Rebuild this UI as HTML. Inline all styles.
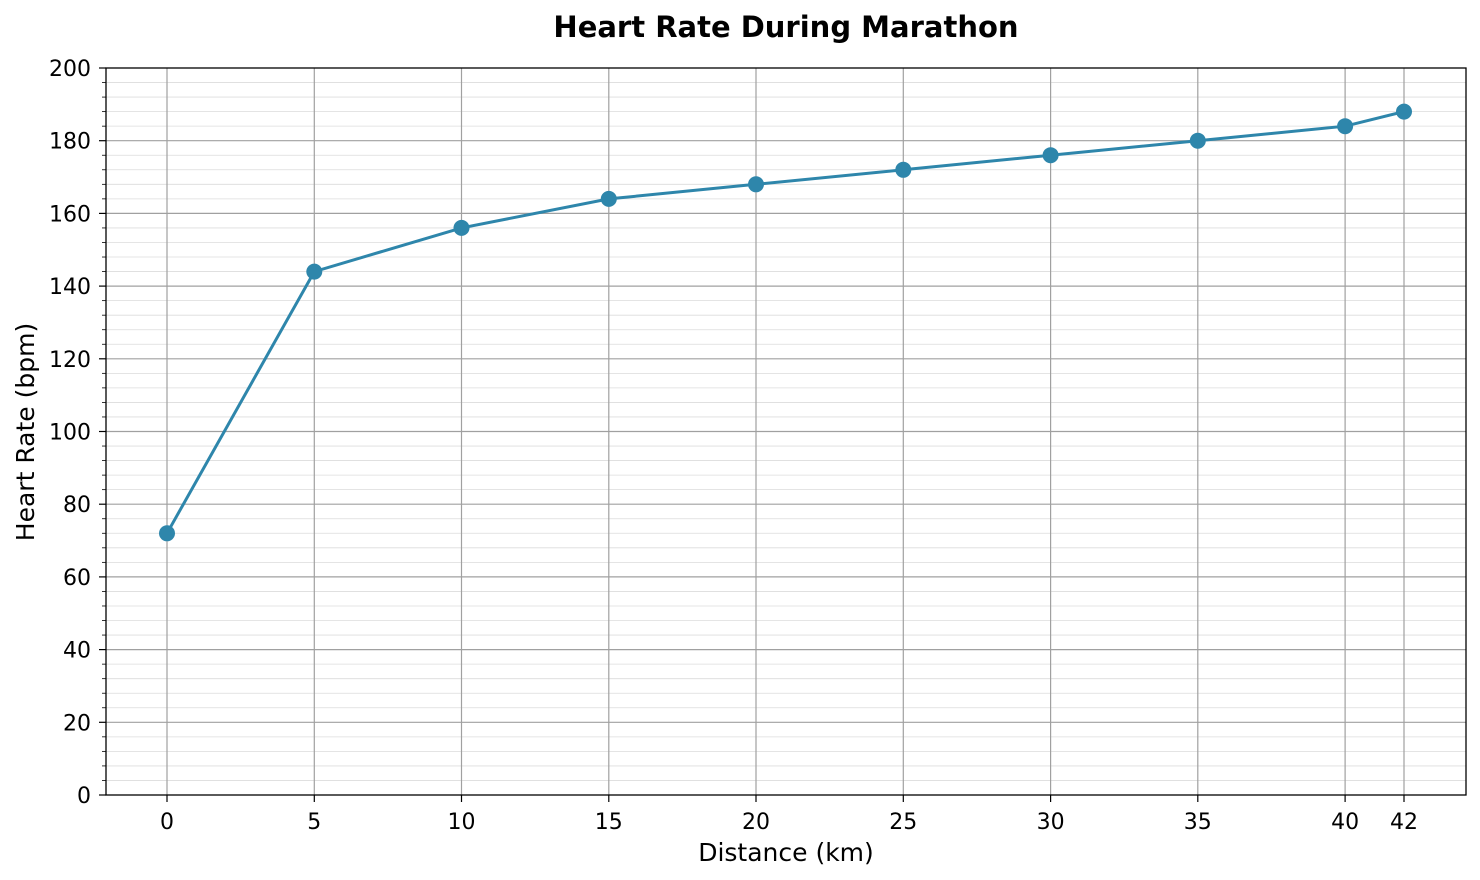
<!DOCTYPE html>
<html><head><meta charset="utf-8"><style>body{margin:0;background:#fff}svg{display:block;font-family:"DejaVu Sans","Liberation Sans",sans-serif}</style></head>
<body>
<svg width="1480" height="880" viewBox="0 0 1480 880" xmlns="http://www.w3.org/2000/svg">
<rect width="1480" height="880" fill="#fff"/>
<defs>
<g id="m">
<line x1="106" x2="1466" y1="-14.54" y2="-14.54" stroke="#dcdcdc" stroke-width="0.8"/>
<line x1="106" x2="1466" y1="-29.08" y2="-29.08" stroke="#dcdcdc" stroke-width="0.8"/>
<line x1="106" x2="1466" y1="-43.62" y2="-43.62" stroke="#dcdcdc" stroke-width="0.8"/>
<line x1="106" x2="1466" y1="-58.16" y2="-58.16" stroke="#dcdcdc" stroke-width="0.8"/>
<line x1="102" x2="106" y1="-14.54" y2="-14.54" stroke="#000" stroke-width="0.8"/>
<line x1="102" x2="106" y1="-29.08" y2="-29.08" stroke="#000" stroke-width="0.8"/>
<line x1="102" x2="106" y1="-43.62" y2="-43.62" stroke="#000" stroke-width="0.8"/>
<line x1="102" x2="106" y1="-58.16" y2="-58.16" stroke="#000" stroke-width="0.8"/>
</g>
</defs>
<use href="#m" y="795"/><use href="#m" y="722.3"/><use href="#m" y="649.6"/><use href="#m" y="576.9"/><use href="#m" y="504.2"/>
<use href="#m" y="431.5"/><use href="#m" y="358.8"/><use href="#m" y="286.1"/><use href="#m" y="213.4"/><use href="#m" y="140.7"/>
<g stroke="#a0a0a0" stroke-width="1.2">
<line x1="106" x2="1466" y1="722.3" y2="722.3"/><line x1="106" x2="1466" y1="649.6" y2="649.6"/>
<line x1="106" x2="1466" y1="576.9" y2="576.9"/><line x1="106" x2="1466" y1="504.2" y2="504.2"/>
<line x1="106" x2="1466" y1="431.5" y2="431.5"/><line x1="106" x2="1466" y1="358.8" y2="358.8"/>
<line x1="106" x2="1466" y1="286.1" y2="286.1"/><line x1="106" x2="1466" y1="213.4" y2="213.4"/>
<line x1="106" x2="1466" y1="140.7" y2="140.7"/>
<line x1="167" x2="167" y1="68" y2="795"/><line x1="314.3" x2="314.3" y1="68" y2="795"/>
<line x1="461.5" x2="461.5" y1="68" y2="795"/><line x1="608.8" x2="608.8" y1="68" y2="795"/>
<line x1="756" x2="756" y1="68" y2="795"/><line x1="903.3" x2="903.3" y1="68" y2="795"/>
<line x1="1050.6" x2="1050.6" y1="68" y2="795"/><line x1="1197.8" x2="1197.8" y1="68" y2="795"/>
<line x1="1345.1" x2="1345.1" y1="68" y2="795"/><line x1="1404" x2="1404" y1="68" y2="795"/>
</g>
<g stroke="#000" stroke-width="1.2">
<line x1="99" x2="106" y1="795" y2="795"/><line x1="99" x2="106" y1="722.3" y2="722.3"/><line x1="99" x2="106" y1="649.6" y2="649.6"/>
<line x1="99" x2="106" y1="576.9" y2="576.9"/><line x1="99" x2="106" y1="504.2" y2="504.2"/><line x1="99" x2="106" y1="431.5" y2="431.5"/>
<line x1="99" x2="106" y1="358.8" y2="358.8"/><line x1="99" x2="106" y1="286.1" y2="286.1"/><line x1="99" x2="106" y1="213.4" y2="213.4"/>
<line x1="99" x2="106" y1="140.7" y2="140.7"/><line x1="99" x2="106" y1="68" y2="68"/>
<line x1="167" x2="167" y1="795" y2="802"/><line x1="314.3" x2="314.3" y1="795" y2="802"/><line x1="461.5" x2="461.5" y1="795" y2="802"/>
<line x1="608.8" x2="608.8" y1="795" y2="802"/><line x1="756" x2="756" y1="795" y2="802"/><line x1="903.3" x2="903.3" y1="795" y2="802"/>
<line x1="1050.6" x2="1050.6" y1="795" y2="802"/><line x1="1197.8" x2="1197.8" y1="795" y2="802"/><line x1="1345.1" x2="1345.1" y1="795" y2="802"/>
<line x1="1404" x2="1404" y1="795" y2="802"/>
</g>
<rect x="106" y="68" width="1360" height="727" fill="none" stroke="#000" stroke-width="1.3"/>
<g font-size="22" text-anchor="end">
<text x="91" y="803">0</text><text x="91" y="730.3">20</text><text x="91" y="657.6">40</text><text x="91" y="584.9">60</text>
<text x="91" y="512.2">80</text><text x="91" y="439.5">100</text><text x="91" y="366.8">120</text><text x="91" y="294.1">140</text>
<text x="91" y="221.4">160</text><text x="91" y="148.7">180</text><text x="91" y="76">200</text>
</g>
<g font-size="22" text-anchor="middle">
<text x="167" y="829">0</text><text x="314.3" y="829">5</text><text x="461.5" y="829">10</text><text x="608.8" y="829">15</text>
<text x="756" y="829">20</text><text x="903.3" y="829">25</text><text x="1050.6" y="829">30</text><text x="1197.8" y="829">35</text>
<text x="1345.1" y="829">40</text><text x="1404" y="829">42</text>
</g>
<polyline fill="none" stroke="#2e86ab" stroke-width="3" points="167,533.3 314.3,271.6 461.5,227.9 608.8,198.9 756,184.3 903.3,169.8 1050.6,155.2 1197.8,140.7 1345.1,126.2 1404,111.6"/>
<g fill="#2e86ab">
<circle cx="167" cy="533.3" r="8"/><circle cx="314.3" cy="271.6" r="8"/><circle cx="461.5" cy="227.9" r="8"/>
<circle cx="608.8" cy="198.9" r="8"/><circle cx="756" cy="184.3" r="8"/><circle cx="903.3" cy="169.8" r="8"/>
<circle cx="1050.6" cy="155.2" r="8"/><circle cx="1197.8" cy="140.7" r="8"/><circle cx="1345.1" cy="126.2" r="8"/>
<circle cx="1404" cy="111.6" r="8"/>
</g>
<text x="786" y="37" text-anchor="middle" font-size="29" font-weight="bold">Heart Rate During Marathon</text>
<text x="786" y="861" text-anchor="middle" font-size="25">Distance (km)</text>
<text transform="translate(34,432) rotate(-90)" text-anchor="middle" font-size="25">Heart Rate (bpm)</text>
</svg>
</body></html>
